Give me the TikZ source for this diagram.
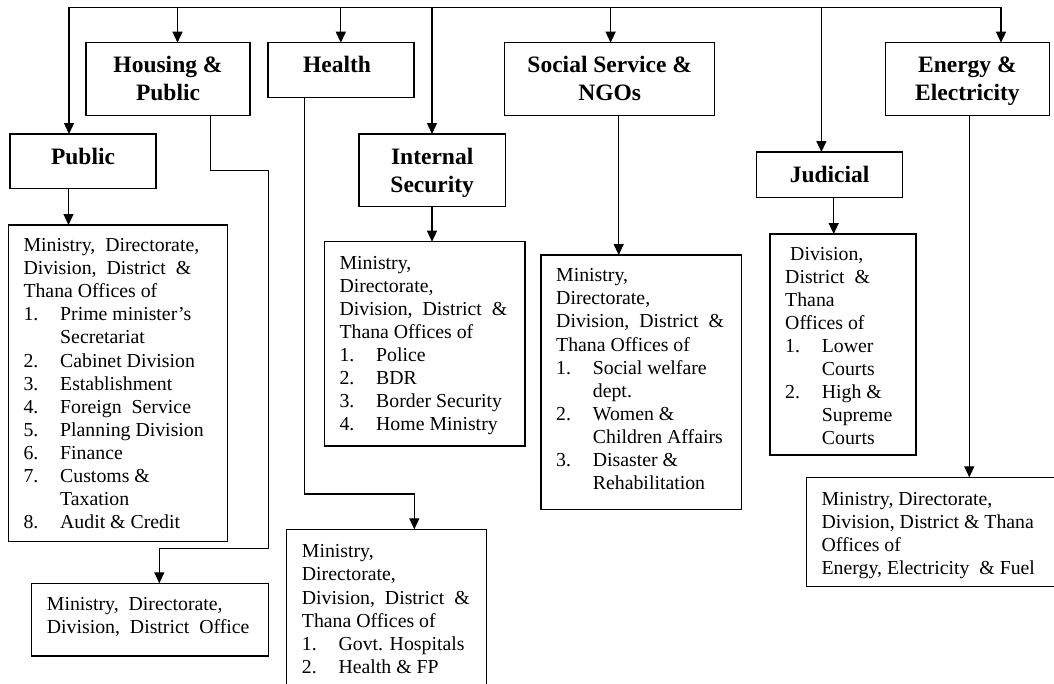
\documentclass[tikz,border=0pt]{standalone}
\usepackage{fontspec}
\setmainfont{Liberation Serif}
\usetikzlibrary{arrows.meta,calc}
\newcommand\ttlfont{\fontsize{23.5}{28}\bfseries\selectfont}
\newcommand\bdyfont{\fontsize{19.8}{23.1}\selectfont}
\newcommand\numit[2]{\makebox[36.7pt][l]{#1}#2}
\newcommand\contit[1]{\hspace*{36.7pt}#1}
\tikzset{
  box/.style={draw, line width=1.3pt, rectangle, anchor=north west, inner sep=0pt, outer sep=0pt},
  ttl/.style={font=\ttlfont, anchor=base, inner sep=0pt},
  bdy/.style={font=\bdyfont, anchor=base west, inner sep=0pt},
  conn/.style={line width=1.3pt},
  arr/.style={line width=1.3pt, -{Triangle[length=11pt,width=10pt]}},
}
\begin{document}
\begin{tikzpicture}[x=1pt,y=-1pt]
\path[use as bounding box, clip] (0,0) rectangle (1054,683);
% heading boxes
\node[box, minimum width=146pt, minimum height=54.5pt] (pub) at (10,134) {};
\node[box, minimum width=164pt, minimum height=73pt] (hous) at (86,42.7) {};
\node[box, minimum width=146pt, minimum height=55pt] (heal) at (268,42.7) {};
\node[box, minimum width=146.4pt, minimum height=72.7pt] (isec) at (359,134) {};
\node[box, minimum width=210pt, minimum height=73pt] (soc) at (504.7,42.7) {};
\node[box, minimum width=145.8pt, minimum height=45.3pt] (jud) at (756.7,152) {};
\node[box, minimum width=163.8pt, minimum height=73pt] (ener) at (885.5,42.7) {};
% heading texts
\node[ttl] (pubT) at ($(pub.north)+(0,30)$) {\begin{tabular}[t]{@{}c@{}}Public\end{tabular}};
\node[ttl] (housT) at ($(hous.north)+(0,30)$) {\begin{tabular}[t]{@{}c@{}}Housing \&\\Public\end{tabular}};
\node[ttl] (healT) at ($(heal.north)+(-4,30)$) {\begin{tabular}[t]{@{}c@{}}Health\end{tabular}};
\node[ttl] (isecT) at ($(isec.north)+(0,30)$) {\begin{tabular}[t]{@{}c@{}}Internal\\Security\end{tabular}};
\node[ttl] (socT) at ($(soc.north)+(0,30)$) {\begin{tabular}[t]{@{}c@{}}Social Service \&\\NGOs\end{tabular}};
\node[ttl] (judT) at ($(jud.north)+(0,30)$) {\begin{tabular}[t]{@{}c@{}}Judicial\end{tabular}};
\node[ttl] (enerT) at ($(ener.north)+(0,30)$) {\begin{tabular}[t]{@{}c@{}}Energy \&\\Electricity\end{tabular}};
% list boxes
\node[box, minimum width=219.4pt, minimum height=316.7pt] (pubL) at (8.3,225) {};
\node[box, minimum width=236.6pt, minimum height=72.7pt] (botL) at (31.7,583.3) {};
\node[box, minimum width=200.7pt, minimum height=204.3pt] (isecL) at (324.3,241.7) {};
\node[box, minimum width=200pt, minimum height=200pt] (healL) at (286.7,529.3) {};
\node[box, minimum width=200.6pt, minimum height=254.3pt] (socL) at (541,255) {};
\node[box, minimum width=146pt, minimum height=221pt] (judL) at (770,234) {};
\node[box, minimum width=280pt, minimum height=109.4pt] (enerL) at (806.4,477.3) {};
% list texts
\node[bdy] (pubLT) at ($(pubL.north west)+(15,26.5)$) {\begin{tabular}[t]{@{}l@{}}
Ministry,\ \ Directorate,\\
Division,\ \ District\ \ \&\\
Thana Offices of\\
\numit{1.}{Prime minister's}\\
\contit{Secretariat}\\
\numit{2.}{Cabinet Division}\\
\numit{3.}{Establishment}\\
\numit{4.}{Foreign\ \ Service}\\
\numit{5.}{Planning Division}\\
\numit{6.}{Finance}\\
\numit{7.}{Customs \&}\\
\contit{Taxation}\\
\numit{8.}{Audit \& Credit}
\end{tabular}};
\node[bdy] (botLT) at ($(botL.north west)+(15,27)$) {\begin{tabular}[t]{@{}l@{}}
Ministry,\ \ Directorate,\\
Division,\ \ District\ \ Office
\end{tabular}};
\node[bdy] (isecLT) at ($(isecL.north west)+(15,27.3)$) {\begin{tabular}[t]{@{}l@{}}
Ministry,\\
Directorate,\\
Division,\ \ District\ \ \&\\
Thana Offices of\\
\numit{1.}{Police}\\
\numit{2.}{BDR}\\
\numit{3.}{Border Security}\\
\numit{4.}{Home Ministry}
\end{tabular}};
\node[bdy] (healLT) at ($(healL.north west)+(15,28.5)$) {\begin{tabular}[t]{@{}l@{}}
Ministry,\\
Directorate,\\
Division,\ \ District\ \ \&\\
Thana Offices of\\
\numit{1.}{Govt. Hospitals}\\
\numit{2.}{Health \& FP}
\end{tabular}};
\node[bdy] (socLT) at ($(socL.north west)+(15,26.7)$) {\begin{tabular}[t]{@{}l@{}}
Ministry,\\
Directorate,\\
Division,\ \ District\ \ \&\\
Thana Offices of\\
\numit{1.}{Social welfare}\\
\contit{dept.}\\
\numit{2.}{Women \&}\\
\contit{Children Affairs}\\
\numit{3.}{Disaster \&}\\
\contit{Rehabilitation}
\end{tabular}};
\node[bdy] (judLT) at ($(judL.north west)+(15,26)$) {\begin{tabular}[t]{@{}l@{}}
\hspace*{5pt}Division,\\
District\ \ \&\\
Thana\\
Offices\ of\\
\numit{1.}{Lower}\\
\contit{Courts}\\
\numit{2.}{High \&}\\
\contit{Supreme}\\
\contit{Courts}
\end{tabular}};
\node[bdy] (enerLT) at ($(enerL.north west)+(15,27.7)$) {\begin{tabular}[t]{@{}l@{}}
Ministry,\ Directorate,\\
Division,\ District\ \&\ Thana\\
Offices of\\
Energy,\ Electricity\ \ \&\ Fuel
\end{tabular}};
% bus
\coordinate (busL) at (69,7.3);
\coordinate (busR) at (1001,7.3);
\coordinate (bHous) at (177.5,7.3);
\coordinate (bHeal) at (340.8,7.3);
\coordinate (bIsec) at (432,7.3);
\coordinate (bSoc) at (610.6,7.3);
\coordinate (bJud) at (821.4,7.3);
\draw[conn] (busL) -- (busR);
\draw[arr] (busL) -- (busL |- pub.north);
\draw[arr] (bHous) -- (bHous |- hous.north);
\draw[arr] (bHeal) -- (bHeal |- heal.north);
\draw[arr] (bIsec) -- (bIsec |- isec.north);
\draw[arr] (bSoc) -- (bSoc |- soc.north);
\draw[arr] (bJud) -- (bJud |- jud.north);
\draw[arr] (busR) -- (busR |- ener.north);
% down links
\coordinate (pubX) at (68.5,0);
\draw[arr] (pubX |- pub.south) -- (pubX |- pubL.north);
\coordinate (isecX) at (432,0);
\draw[arr] (isecX |- isec.south) -- (isecX |- isecL.north);
\coordinate (socX) at (618.7,0);
\draw[arr] (socX |- soc.south) -- (socX |- socL.north);
\coordinate (judX) at (833.7,0);
\draw[arr] (judX |- jud.south) -- (judX |- judL.north);
\coordinate (enerX) at (969.3,0);
\draw[arr] (enerX |- ener.south) -- (enerX |- enerL.north);
% housing route
\coordinate (h1) at (210.6,170.3);
\coordinate (h2) at (268.5,548.3);
\coordinate (h3) at (159.3,548.3);
\draw[arr] (h1 |- hous.south) -- (h1) -| (h2) -- (h3) -- (h3 |- botL.north);
% health route
\coordinate (k1) at (304.3,494);
\coordinate (k2) at (414.3,494);
\draw[arr] (k1 |- heal.south) -- (k1) -- (k2) -- (k2 |- healL.north);
\end{tikzpicture}
\end{document}
